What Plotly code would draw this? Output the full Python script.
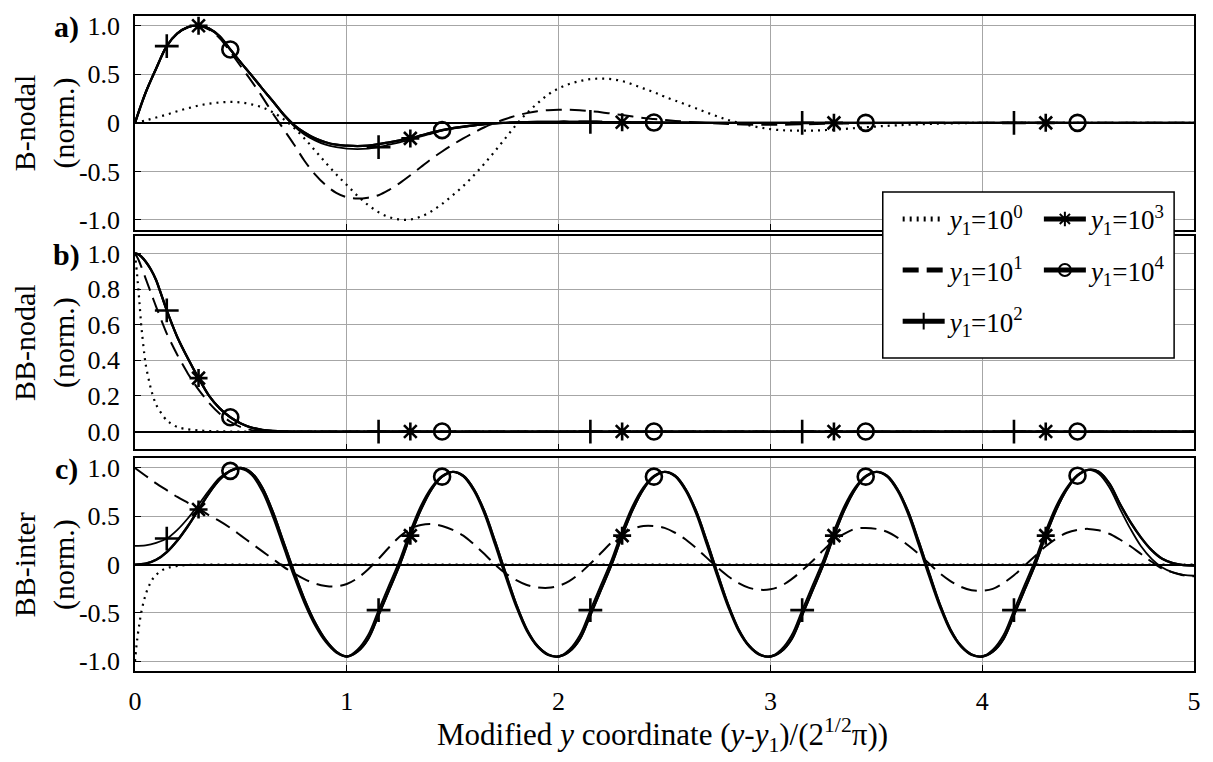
import plotly.graph_objects as go

FONT = "Liberation Serif"

# ---------------- data ----------------
# Panel a) B-nodal
XA = [round(0.05 * i, 2) for i in range(51)] + [2.6, 2.8, 3.0, 3.15, 3.3, 3.45, 3.6, 3.8, 4.0, 4.15, 4.3, 4.45, 4.6, 4.8, 5.0]
A_1 = [0.00, 0.025, 0.055, 0.085, 0.12, 0.15, 0.178, 0.198, 0.21, 0.215,
       0.21, 0.19, 0.16, 0.11, 0.04, -0.05, -0.16, -0.285, -0.41, -0.53,
       -0.64, -0.75, -0.845, -0.92, -0.97, -0.995, -0.995, -0.965, -0.91, -0.835,
       -0.745, -0.65, -0.54, -0.42, -0.29, -0.155, -0.02, 0.10, 0.20, 0.29,
       0.355, 0.40, 0.43, 0.45, 0.455, 0.45, 0.43, 0.395, 0.355, 0.315,
       0.27,
       0.19, 0.03, -0.065, -0.08, -0.07, -0.045, -0.025, -0.008, 0.0, 0.0, 0.0, 0.0, 0.0, 0.0, 0.0]
A_10 = [0.00, 0.31, 0.56, 0.79, 0.92, 0.985, 1.00, 0.96, 0.87, 0.73,
        0.58, 0.43, 0.27, 0.10, -0.06, -0.22, -0.39, -0.53, -0.64, -0.72,
        -0.765, -0.78, -0.77, -0.745, -0.69, -0.62, -0.54, -0.455, -0.37, -0.295,
        -0.225, -0.16, -0.10, -0.045, 0.0, 0.04, 0.075, 0.10, 0.12, 0.13,
        0.135, 0.135, 0.13, 0.12, 0.11, 0.095, 0.08, 0.065, 0.05, 0.04,
        0.03,
        0.012, -0.012, -0.02, -0.015, -0.008, -0.004, -0.001, 0.0, 0.0, 0.0, 0.0, 0.0, 0.0, 0.0, 0.0]
A_100 = [0.00, 0.31, 0.56, 0.79, 0.92, 0.985, 1.00, 0.97, 0.89, 0.755,
         0.62, 0.49, 0.355, 0.225, 0.09, -0.03, -0.12, -0.18, -0.225, -0.25,
         -0.265, -0.27, -0.265, -0.25, -0.225, -0.20, -0.175, -0.14, -0.11, -0.08,
         -0.06, -0.043, -0.028, -0.015, -0.006, 0.0, 0.004, 0.007, 0.009, 0.010,
         0.011, 0.011, 0.010, 0.010, 0.008, 0.007, 0.006, 0.005, 0.004, 0.003,
         0.002,
         0.001, 0.0, 0.0, 0.0, 0.0, 0.0, 0.0, 0.0, 0.0, 0.0, 0.0, 0.0, 0.0, 0.0, 0.0]
A_HI = [0.00, 0.31, 0.56, 0.79, 0.92, 0.985, 1.00, 0.97, 0.89, 0.755,
        0.62, 0.49, 0.355, 0.225, 0.09, -0.02, -0.10, -0.16, -0.20, -0.225,
        -0.235, -0.24, -0.235, -0.22, -0.20, -0.18, -0.16, -0.13, -0.10, -0.075,
        -0.055, -0.04, -0.025, -0.013, -0.005, 0.0, 0.004, 0.007, 0.009, 0.010,
        0.011, 0.011, 0.010, 0.010, 0.008, 0.007, 0.006, 0.005, 0.004, 0.003,
        0.002,
        0.001, 0.0, 0.0, 0.0, 0.0, 0.0, 0.0, 0.0, 0.0, 0.0, 0.0, 0.0, 0.0, 0.0, 0.0]

# Panel b) BB-nodal
XB = [0, 0.01, 0.02, 0.03, 0.05, 0.075, 0.1, 0.15, 0.2, 0.25, 0.3, 0.35, 0.4, 0.45, 0.5,
      0.55, 0.6, 0.65, 0.7, 0.8, 1.0, 1.15, 1.3, 1.45, 1.6, 2.0, 2.15, 2.3, 2.45, 2.6,
      3.0, 3.15, 3.3, 3.45, 3.6, 4.0, 4.15, 4.3, 4.45, 4.6, 5.0]
B_1 = [1.0, 0.88, 0.74, 0.59, 0.38, 0.24, 0.15, 0.062, 0.025, 0.012, 0.006, 0.003, 0.001, 0.0, 0.0,
       0.0, 0.0, 0.0, 0.0, 0.0, 0.0, 0.0, 0.0, 0.0, 0.0, 0.0, 0.0, 0.0, 0.0, 0.0,
       0.0, 0.0, 0.0, 0.0, 0.0, 0.0, 0.0, 0.0, 0.0, 0.0, 0.0]
B_10 = [1.0, 0.98, 0.955, 0.925, 0.86, 0.78, 0.70, 0.55, 0.43, 0.325, 0.235, 0.16, 0.10, 0.055, 0.025,
        0.008, 0.002, 0.0, 0.0, 0.0, 0.0, 0.0, 0.0, 0.0, 0.0, 0.0, 0.0, 0.0, 0.0, 0.0,
        0.0, 0.0, 0.0, 0.0, 0.0, 0.0, 0.0, 0.0, 0.0, 0.0, 0.0]
B_HI = [1.0, 0.998, 0.992, 0.982, 0.955, 0.91, 0.85, 0.68, 0.53, 0.41, 0.30, 0.20, 0.13, 0.08, 0.045,
        0.022, 0.01, 0.004, 0.001, 0.0, 0.0, 0.0, 0.0, 0.0, 0.0, 0.0, 0.0, 0.0, 0.0, 0.0,
        0.0, 0.0, 0.0, 0.0, 0.0, 0.0, 0.0, 0.0, 0.0, 0.0, 0.0]

# Panel c) BB-inter
XC1 = [0, 0.005, 0.01, 0.02, 0.03, 0.045, 0.06, 0.08, 0.1, 0.13, 0.16, 0.2, 0.25, 0.3,
       0.5, 1.0, 1.5, 2.0, 2.5, 3.0, 3.5, 4.0, 4.5, 5.0]
C_1 = [-1.0, -0.88, -0.78, -0.62, -0.49, -0.35, -0.25, -0.16, -0.105, -0.055, -0.03, -0.012, -0.004, -0.001,
       0.0, 0.0, 0.0, 0.0, 0.0, 0.0, 0.0, 0.0, 0.0, 0.0]
XC = [round(0.05 * i, 2) for i in range(101)]
C_10 = [1.0, 0.92, 0.84, 0.77, 0.70, 0.64, 0.58, 0.51, 0.45, 0.38,
        0.30, 0.22, 0.14, 0.06, -0.02, -0.09, -0.15, -0.195, -0.22, -0.225,
        -0.20, -0.14, -0.05, 0.06, 0.18, 0.29, 0.37, 0.41, 0.42, 0.40,
        0.36, 0.30, 0.21, 0.11, 0.0, -0.09, -0.16, -0.21, -0.235, -0.24,
        -0.22, -0.17, -0.09, 0.01, 0.12, 0.23, 0.32, 0.37, 0.40, 0.40,
        0.38, 0.33, 0.26, 0.17, 0.07, -0.03, -0.12, -0.19, -0.24, -0.26,
        -0.255, -0.22, -0.15, -0.06, 0.04, 0.15, 0.25, 0.32, 0.37, 0.38,
        0.37, 0.34, 0.28, 0.20, 0.11, 0.01, -0.09, -0.17, -0.23, -0.265,
        -0.27, -0.25, -0.19, -0.11, -0.01, 0.09, 0.19, 0.27, 0.33, 0.36,
        0.37, 0.355, 0.32, 0.26, 0.19, 0.11, 0.03, -0.04, -0.08, -0.11,
        -0.12]
C_100 = [0.195, 0.20, 0.225, 0.27, 0.36, 0.48, 0.62, 0.77, 0.90, 0.97,
         0.99, 0.93, 0.76, 0.50, 0.19, -0.12, -0.40, -0.63, -0.80, -0.91,
         -0.95, -0.88, -0.73, -0.47, -0.21, 0.05, 0.35, 0.61, 0.80, 0.92,
         0.96, 0.91, 0.76, 0.52, 0.20, -0.13, -0.44, -0.69, -0.85, -0.935,
         -0.95, -0.88, -0.73, -0.47, -0.21, 0.05, 0.35, 0.61, 0.80, 0.92,
         0.96, 0.91, 0.76, 0.52, 0.20, -0.13, -0.44, -0.69, -0.85, -0.935,
         -0.95, -0.88, -0.73, -0.47, -0.21, 0.05, 0.35, 0.61, 0.80, 0.92,
         0.96, 0.91, 0.76, 0.52, 0.20, -0.13, -0.44, -0.69, -0.85, -0.935,
         -0.95, -0.88, -0.73, -0.47, -0.21, 0.05, 0.35, 0.61, 0.80, 0.93,
         0.98, 0.94, 0.80, 0.58, 0.37, 0.19, 0.06, -0.03, -0.08, -0.105,
         -0.115]
C_HI = [0.0, 0.01, 0.05, 0.13, 0.25, 0.40, 0.57, 0.74, 0.88, 0.97,
        1.0, 0.95, 0.80, 0.55, 0.24, -0.07, -0.36, -0.60, -0.78, -0.90,
        -0.95, -0.90, -0.77, -0.52, -0.26, 0.0, 0.30, 0.57, 0.78, 0.91,
        0.96, 0.92, 0.78, 0.55, 0.24, -0.09, -0.41, -0.67, -0.84, -0.93,
        -0.95, -0.90, -0.77, -0.52, -0.26, 0.0, 0.30, 0.57, 0.78, 0.91,
        0.96, 0.92, 0.78, 0.55, 0.24, -0.09, -0.41, -0.67, -0.84, -0.93,
        -0.95, -0.90, -0.77, -0.52, -0.26, 0.0, 0.30, 0.57, 0.78, 0.91,
        0.96, 0.92, 0.78, 0.55, 0.24, -0.09, -0.41, -0.67, -0.84, -0.93,
        -0.95, -0.90, -0.77, -0.52, -0.26, 0.0, 0.30, 0.57, 0.78, 0.92,
        0.98, 0.96, 0.84, 0.63, 0.44, 0.28, 0.15, 0.06, 0.015, -0.005,
        -0.01]

# marker positions of the sparse symbols
MK_100 = [0.15, 1.15, 2.15, 3.15, 4.15]
MK_1000 = [0.3, 1.3, 2.3, 3.3, 4.3]
MK_10000 = [0.45, 1.45, 2.45, 3.45, 4.45]

NAMES = ["<i>y</i><sub>1</sub>=10<sup>0</sup>", "<i>y</i><sub>1</sub>=10<sup>1</sup>",
         "<i>y</i><sub>1</sub>=10<sup>2</sup>", "<i>y</i><sub>1</sub>=10<sup>3</sup>",
         "<i>y</i><sub>1</sub>=10<sup>4</sup>"]

# ---------------- styling ----------------
STYLES = {
    0: dict(dash="2px,5px", width=2.2, symbol=None, mk=[], msize=0),
    1: dict(dash="16px,8px", width=2.0, symbol=None, mk=[], msize=0),
    2: dict(dash="solid", width=1.8, symbol="cross-thin", mk=MK_100, msize=17),
    3: dict(dash="solid", width=2.3, symbol="asterisk", mk=MK_1000, msize=15),
    4: dict(dash="solid", width=2.3, symbol="circle-open", mk=MK_10000, msize=16),
}

fig = go.Figure()


def add(idx, x, y, panel):
    st = STYLES[idx]
    axis_suffix = "" if panel == 1 else str(panel)
    legend_name = "legend" if idx < 3 else "legend2"
    tr = dict(x=x, y=y, name=NAMES[idx], xaxis="x" + axis_suffix, yaxis="y" + axis_suffix,
              line=dict(color="black", width=st["width"], dash=st["dash"], shape="spline",
                        smoothing=0.6 if panel == 2 else 1.0),
              legendgroup="g%d" % idx, legend=legend_name, showlegend=(panel == 1),
              hoverinfo="skip")
    if st["symbol"]:
        sizes = [st["msize"] if any(abs(xi - m) < 1e-6 for m in st["mk"]) else 0 for xi in x]
        lws = [2.6 if s > 0 else 0 for s in sizes]
        tr["mode"] = "lines+markers"
        tr["marker"] = dict(symbol=st["symbol"], size=sizes, color="black", opacity=1,
                            line=dict(color="black", width=lws))
    else:
        tr["mode"] = "lines"
    fig.add_trace(go.Scatter(**tr))


# panel a
add(0, XA, A_1, 1)
add(1, XA, A_10, 1)
add(2, XA, A_100, 1)
add(3, XA, A_HI, 1)
add(4, XA, A_HI, 1)
# panel b
add(0, XB, B_1, 2)
add(1, XB, B_10, 2)
add(2, XB, B_HI, 2)
add(3, XB, B_HI, 2)
add(4, XB, B_HI, 2)
# panel c
add(0, XC1, C_1, 3)
add(1, XC, C_10, 3)
add(2, XC, C_100, 3)
add(3, XC, C_HI, 3)
add(4, XC, C_HI, 3)

# ---------------- layout ----------------
W, H = 1213, 762
ML, MR, MT, MB = 135, 13, 12, 91
PW, PH = W - ML - MR, H - MT - MB


def py(pix):
    return 1 - (pix - MT) / PH


def px(pix):
    return (pix - ML) / PW


DOM = {1: [py(227), 1.0], 2: [py(448), py(233)], 3: [0.0, py(457)]}

GRID = "#a6a6a6"
TICKFONT = dict(family=FONT, size=26, color="black")

layout = dict(
    width=W, height=H, margin=dict(l=ML, r=MR, t=MT, b=MB),
    paper_bgcolor="white", plot_bgcolor="white",
    font=dict(family=FONT, color="black"),
)
for p in (1, 2, 3):
    s = "" if p == 1 else str(p)
    layout["xaxis" + s] = dict(
        domain=[0, 1], anchor="y" + s, range=[0, 5], tickvals=[0, 1, 2, 3, 4, 5],
        ticktext=["0", "1", "2", "3", "4", "5"], showticklabels=(p == 3),
        ticks="inside", ticklen=6, tickcolor="black", tickwidth=1.2,
        showgrid=True, gridcolor=GRID, gridwidth=1, zeroline=False,
        showline=True, linecolor="black", linewidth=1.5, mirror=True,
        tickfont=TICKFONT, ticklabelstandoff=6,
    )
    if p == 2:
        yr, tv, tt = [-0.1, 1.1], [0, 0.2, 0.4, 0.6, 0.8, 1.0], ["0.0", "0.2", "0.4", "0.6", "0.8", "1.0"]
    else:
        yr, tv, tt = [-1.1, 1.1], [-1, -0.5, 0, 0.5, 1], ["-1.0", "-0.5", "0", "0.5", "1.0"]
    layout["yaxis" + s] = dict(
        domain=DOM[p], anchor="x" + s, range=yr, tickvals=tv, ticktext=tt,
        ticks="inside", ticklen=6, tickcolor="black", tickwidth=1.2,
        showgrid=True, gridcolor=GRID, gridwidth=1,
        zeroline=True, zerolinecolor="black", zerolinewidth=1.5,
        showline=True, linecolor="black", linewidth=1.5, mirror=True,
        tickfont=TICKFONT, ticklabelstandoff=8,
    )

LEGFONT = dict(family=FONT, size=27, color="black")
layout["legend"] = dict(x=px(902), y=py(192), xanchor="left", yanchor="top",
                        bgcolor="rgba(0,0,0,0)", borderwidth=0, font=LEGFONT, itemwidth=42,
                        itemsizing="constant", tracegroupgap=13, itemclick=False)
layout["legend2"] = dict(x=px(1044), y=py(192), xanchor="left", yanchor="top",
                         bgcolor="rgba(0,0,0,0)", borderwidth=0, font=LEGFONT, itemwidth=42,
                         itemsizing="constant", tracegroupgap=13, itemclick=False)

layout["shapes"] = [dict(type="rect", xref="paper", yref="paper",
                         x0=px(887), x1=px(1180), y0=py(356), y1=py(189),
                         fillcolor="white", line=dict(color="black", width=1.5), layer="above")]

ann = []
titles = {1: "B-nodal<br>(norm.)", 2: "BB-nodal<br>(norm.)", 3: "BB-inter<br>(norm.)"}
for p in (1, 2, 3):
    ann.append(dict(text=titles[p], x=px(44), y=(DOM[p][0] + DOM[p][1]) / 2, xref="paper", yref="paper",
                    xanchor="center", yanchor="middle", textangle=-90, showarrow=False,
                    font=dict(family=FONT, size=30, color="black")))
for lab, ypix in (("a)", 23), ("b)", 252), ("c)", 468)):
    ann.append(dict(text="<b>%s</b>" % lab, x=px(66), y=py(ypix), xref="paper", yref="paper",
                    xanchor="center", yanchor="middle", showarrow=False,
                    font=dict(family=FONT, size=30, color="black")))
ann.append(dict(text="Modified <i>y</i> coordinate (<i>y</i>-<i>y</i><sub>1</sub>)/(2<sup>1/2</sup>π))",
                x=px(665), y=py(735), xref="paper", yref="paper", xanchor="center", yanchor="middle",
                showarrow=False, font=dict(family=FONT, size=31, color="black")))
layout["annotations"] = ann

fig.update_layout(**layout)
fig.write_html("out.html")
